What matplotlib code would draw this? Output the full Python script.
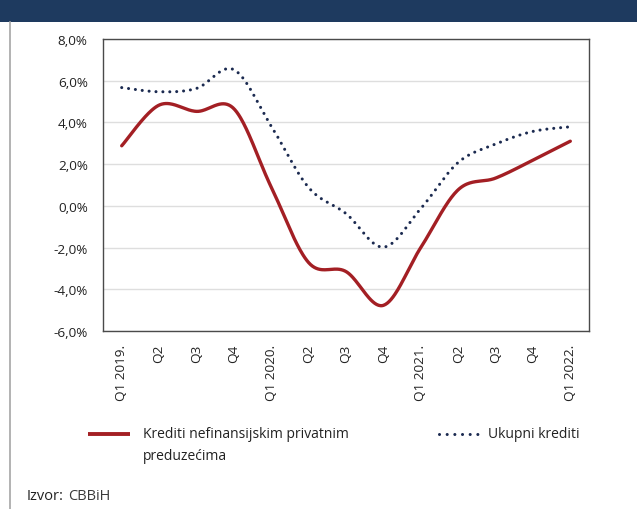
import numpy as np
import matplotlib
matplotlib.use("Agg")
import matplotlib.pyplot as plt
from matplotlib.lines import Line2D
from matplotlib.patches import Rectangle
from matplotlib.ticker import FuncFormatter

categories = ["Q1 2019.", "Q2", "Q3", "Q4", "Q1 2020.", "Q2", "Q3", "Q4",
              "Q1 2021.", "Q2", "Q3", "Q4", "Q1 2022."]
krediti_preduzeca = [2.88, 4.83, 4.53, 4.66, 0.9, -2.72, -3.15, -4.77, -2.0, 0.77, 1.33, 2.19, 3.1]
ukupni_krediti = [5.67, 5.47, 5.63, 6.53, 3.82, 0.88, -0.37, -1.98, -0.13, 2.08, 2.96, 3.57, 3.79]
series_names = ["Krediti nefinansijskim privatnim\npreduzećima", "Ukupni krediti"]
source_label = "Izvor:"
source_text = "CBBiH"
y_ticks = [-6, -4, -2, 0, 2, 4, 6, 8]

plt.rcParams['font.family'] = ['Open Sans', 'DejaVu Sans']

W, H = 637, 510
fig = plt.figure(figsize=(W / 100, H / 100), dpi=100)


def fx(px):
    return px / W


def fy(py):
    return 1 - py / H


def smooth(y):
    """Excel-style smoothed line: cubic Bezier through the points."""
    x = np.arange(len(y), dtype=float)
    y = np.asarray(y, dtype=float)
    n = len(y)
    xs, ys = [], []
    t = np.linspace(0, 1, 40)
    for i in range(n - 1):
        im1 = max(i - 1, 0)
        ip2 = min(i + 2, n - 1)
        p0 = np.array([x[i], y[i]])
        p3 = np.array([x[i + 1], y[i + 1]])
        c1 = p0 + (p3 - np.array([x[im1], y[im1]])) / 6
        c2 = p3 - (np.array([x[ip2], y[ip2]]) - p0) / 6
        pts = ((1 - t)[:, None] ** 3 * p0 + 3 * ((1 - t) ** 2 * t)[:, None] * c1
               + 3 * ((1 - t) * t ** 2)[:, None] * c2 + (t ** 3)[:, None] * p3)
        xs.extend(pts[:, 0])
        ys.extend(pts[:, 1])
    return np.array(xs), np.array(ys)


# header band and left border
fig.add_artist(Rectangle((0, fy(22.5)), 1, 1 - fy(22.5), transform=fig.transFigure,
                         facecolor='#1e3a5f', edgecolor='none'))
fig.add_artist(Line2D([fx(9.5), fx(9.5)], [0, fy(22.5)], transform=fig.transFigure,
                      color='#a6a6a6', lw=1.2))

ax = fig.add_axes([fx(103), fy(332), fx(589) - fx(103), fy(40) - fy(332)])

red = '#a31f24'
navy = '#1b2a50'

xr, yr = smooth(krediti_preduzeca)
ax.plot(xr, yr, color=red, lw=2.4, solid_capstyle='round', zorder=3)
xb, yb = smooth(ukupni_krediti)
ax.plot(xb, yb, color=navy, lw=2.2, linestyle=(0, (0.01, 2.25)),
        dash_capstyle='round', zorder=3)

ax.set_xlim(-0.5, len(categories) - 0.5)
ax.set_ylim(-6, 8)
ax.set_yticks(y_ticks)
ax.yaxis.set_major_formatter(FuncFormatter(lambda v, p: f"{v:.1f}%".replace('.', ',')))
ax.set_xticks(range(len(categories)))
ax.set_xticklabels(categories, rotation=90, va='top', ha='center')
ax.tick_params(axis='both', length=0, labelsize=9.7, labelcolor='#222222')
ax.tick_params(axis='y', pad=11)
ax.tick_params(axis='x', pad=9)
ax.grid(axis='y', color='#dedede', lw=1.0)
ax.set_axisbelow(True)
for s in ax.spines.values():
    s.set_color('#4a4a4a')
    s.set_linewidth(1.0)

# legend
fig.add_artist(Line2D([fx(88), fx(130)], [fy(434.5)] * 2, transform=fig.transFigure,
                      color=red, lw=2.8, solid_capstyle='butt'))
fig.text(fx(143), fy(427), series_names[0], fontsize=10, color='#222222',
         va='top', ha='left', linespacing=1.62)
fig.add_artist(Line2D([fx(438.5), fx(480)], [fy(435)] * 2, transform=fig.transFigure,
                      color=navy, lw=2.2, linestyle=(0, (0.01, 2.5)),
                      dash_capstyle='round'))
fig.text(fx(488), fy(435), series_names[1], fontsize=10, color='#222222',
         va='center', ha='left')

# source
t1 = fig.text(fx(27), fy(497), source_label, fontsize=10.5, color='#222222',
              va='center', ha='left')
fig.canvas.draw()
bb = t1.get_window_extent()
fig.text(bb.x1 / W + fx(4), fy(497), source_text, fontsize=10.5, color='#3a3a3a',
         va='center', ha='left')

fig.savefig("out.png", dpi=100)
